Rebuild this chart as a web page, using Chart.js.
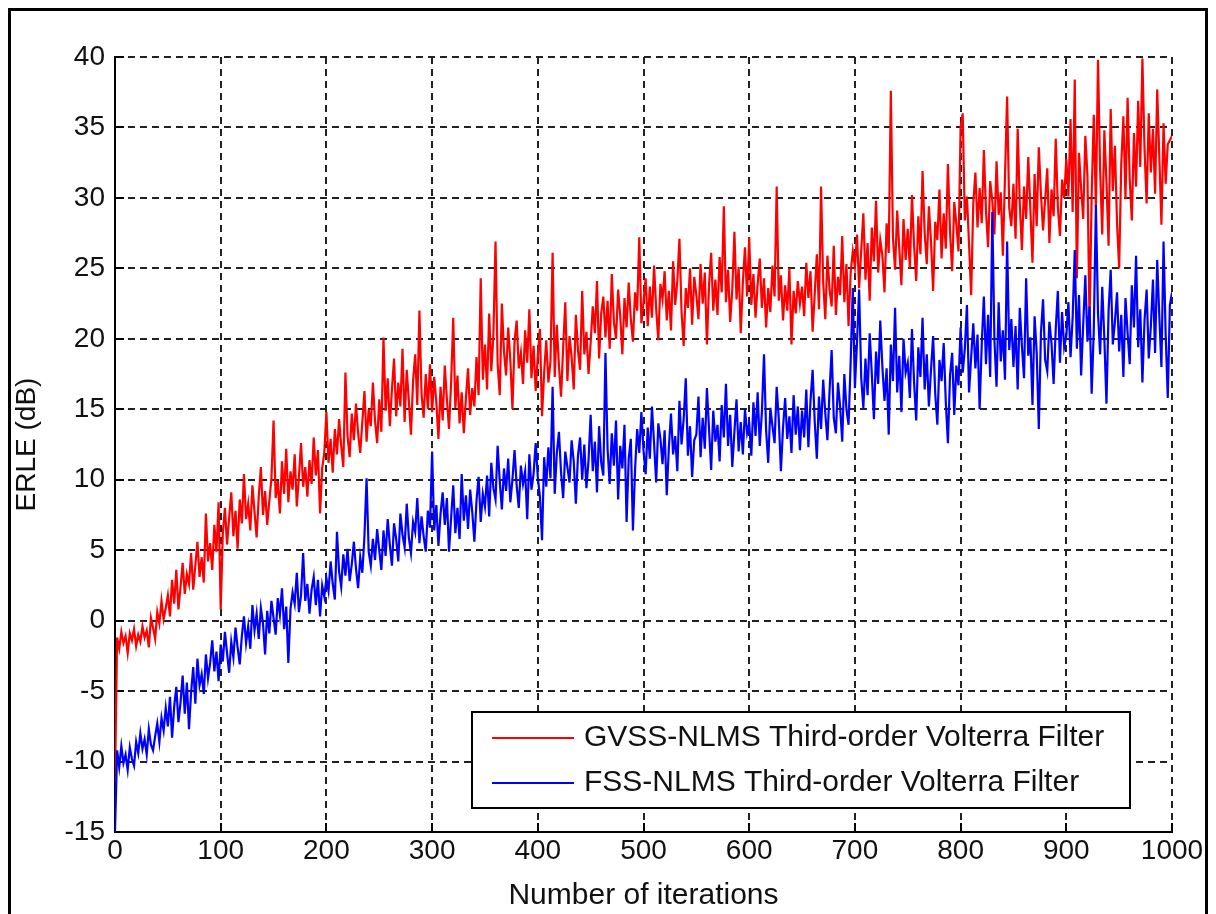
<!DOCTYPE html>
<html>
<head>
<meta charset="utf-8">
<title>ERLE</title>
<script src="https://cdn.jsdelivr.net/npm/chart.js@4.4.1/dist/chart.umd.min.js"></script>
<style>
  html, body { margin: 0; padding: 0; background: #fff; }
  #wrap { position: relative; width: 1216px; height: 914px; overflow: hidden; }
  #frame { position: absolute; left: 8px; top: 8px; width: 1194px; height: 920px;
           border: 3px solid #000; border-bottom: none; pointer-events: none; }
</style>
</head>
<body>
<div id="wrap">
  <canvas id="erlegraph" width="1216" height="914"></canvas>
  <div id="frame"></div>
</div>
<script>
// one sample every 2 iterations, 0..1000
const step = 2;

const gvss = [
  -11.5, -1.2, -2.0, -0.8, -1.6, -1.1, -2.3, -0.9, -1.4, -0.6, -1.8, -1.0, -1.5, -0.4, -1.2, -0.7, -1.9, 0.2, -0.5, -1.3, 0.6, -0.2, 1.4, 0.1, 0.9,
  1.8, 0.3, 2.9, 1.2, 3.6, 0.8, 2.4, 4.1, 1.9, 3.3, 2.6, 4.8, 2.2, 3.9, 5.6, 3.1, 4.5, 2.7, 7.6, 4.2, 5.5, 3.6, 6.8, 4.9, 8.4,
  0.8, 6.2, 8.0, 5.4, 7.3, 9.1, 6.0, 7.8, 5.1, 8.6, 6.9, 10.4, 7.2, 8.3, 6.4, 9.6, 7.7, 5.9, 8.8, 10.9, 7.5, 9.2, 6.8, 8.5, 10.1,
  14.2, 8.7, 9.9, 7.6, 11.3, 9.0, 12.2, 8.4, 10.6, 9.3, 11.8, 8.1, 10.2, 12.6, 9.5, 10.9, 8.8, 11.4, 9.7, 13.0, 10.3, 12.1, 7.6, 10.8, 11.9,
  14.8, 11.2, 12.9, 10.5, 13.6, 11.8, 14.3, 12.4, 10.9, 17.6, 13.1, 11.6, 14.7, 12.8, 15.4, 13.3, 11.9, 14.1, 16.3, 12.7, 15.0, 13.8, 16.9, 14.2, 12.6,
  15.7, 13.4, 20.1, 14.9, 17.2, 13.8, 16.4, 18.6, 14.5, 16.9, 15.2, 19.3, 14.1, 17.8, 15.6, 13.2, 17.0, 18.9, 15.3, 22.0, 16.1, 14.4, 17.5, 15.0, 18.2,
  14.8, 17.3, 15.5, 12.9, 16.6, 14.2, 18.1, 15.7, 13.6, 16.9, 21.5, 15.1, 17.4, 14.0, 16.2, 13.3, 15.8, 17.9, 14.6, 16.5, 15.2, 18.7, 16.0, 24.3, 17.1,
  19.6, 16.4, 21.8, 17.7, 20.3, 26.9, 18.2, 16.0, 22.5, 19.1, 17.4, 20.8, 18.5, 15.0, 19.8, 21.3, 17.9, 19.0, 16.8, 20.6, 18.3, 22.1, 17.2, 19.5, 16.3,
  18.8, 20.7, 14.5, 17.6, 19.9, 16.9, 18.4, 26.1, 17.3, 21.0, 18.1, 15.9, 19.4, 22.6, 17.0, 20.2, 18.7, 16.4, 21.7, 19.2, 17.8, 23.4, 18.9, 20.5, 17.5,
  19.7, 22.3, 20.4, 24.1, 18.6, 21.8, 23.0, 20.1, 22.7, 19.3, 24.6, 21.2, 20.0, 23.5, 21.6, 18.9, 22.9, 20.8, 24.0, 21.4, 19.8, 23.3, 22.0, 27.2, 21.1,
  22.6, 24.3, 20.9, 23.7, 21.5, 25.2, 22.1, 19.9, 23.9, 22.8, 24.8, 21.3, 23.4, 20.6, 25.5, 22.4, 24.1, 27.1, 21.9, 19.5, 23.6, 22.2, 25.0, 21.0, 24.4,
  23.1, 21.4, 25.3, 22.5, 24.7, 19.6, 23.8, 26.1, 22.0, 24.2, 21.7, 25.8, 23.3, 29.4, 22.6, 24.9, 21.2, 23.5, 27.6, 22.8, 25.1, 20.4, 24.0, 26.5, 23.0,
  27.2, 22.4, 24.6, 21.5, 23.9, 25.7, 22.2, 24.3, 20.8, 23.6, 21.9, 25.2, 23.0, 30.8, 22.7, 24.5, 21.3, 23.8, 22.0, 25.0, 19.6, 23.4, 21.8, 24.1, 22.5,
  23.7, 21.6, 25.4, 22.9, 24.8, 20.5, 23.2, 26.0, 22.1, 30.8, 24.0, 21.4, 25.9, 23.5, 22.3, 26.6, 21.7, 24.4, 23.1, 27.3, 22.6, 25.3, 20.9, 24.7, 26.2,
  25.1, 27.4, 23.6, 26.3, 28.9, 24.2, 26.8, 22.7, 27.9, 25.5, 29.8, 24.7, 27.0, 25.9, 23.3, 28.2, 26.1, 37.6, 27.2, 24.9, 29.1, 26.4, 23.8, 28.5, 25.6,
  27.8, 25.0, 30.2, 26.6, 24.1, 28.7, 26.0, 31.9, 27.5, 25.3, 29.4, 26.9, 23.4, 28.3, 27.0, 30.6, 25.7, 28.9, 26.4, 32.4, 27.6, 24.8, 29.7, 28.1, 26.2,
  35.0, 36.0, 28.4, 30.1, 26.7, 23.1, 29.6, 31.8, 27.9, 30.7, 28.2, 33.4, 29.1, 26.5, 31.2, 29.8, 27.4, 32.6, 28.8, 30.4, 25.9, 31.5, 37.2, 29.3, 28.0,
  31.0, 27.1, 34.9, 29.6, 26.3, 30.8, 28.5, 32.9, 29.2, 25.4, 31.7, 28.0, 33.6, 30.3, 27.7, 29.9, 32.1, 26.8, 30.6, 28.7, 34.2, 29.4, 27.3, 31.3, 30.0,
  32.8, 30.1, 35.6, 29.0, 38.4, 24.3, 33.2, 30.7, 28.5, 34.4, 31.6, 21.2, 30.2, 35.9, 29.3, 39.8, 32.0, 27.4, 34.8, 31.1, 26.6, 36.3, 30.5, 33.7, 28.2,
  25.0, 32.4, 35.8, 29.9, 37.1, 31.3, 28.4, 34.6, 30.8, 36.9, 32.2, 39.9, 33.5, 29.6, 36.0, 31.8, 34.9, 30.3, 37.7, 32.9, 28.1, 35.3, 31.0, 33.8, 34.1, 34.4
];

const fss = [
  -15.0, -9.2, -10.4, -8.9, -10.1, -9.5, -10.6, -9.0, -9.8, -10.3, -8.6, -9.4, -8.0, -9.1, -8.4, -9.5, -7.7, -8.8, -9.2, -8.2, -7.3, -8.6, -6.9, -7.8, -6.2,
  -7.5, -5.4, -8.3, -6.1, -4.7, -7.2, -5.8, -3.9, -6.6, -4.4, -7.7, -5.1, -3.3, -5.9, -2.7, -4.6, -3.8, -5.2, -2.4, -4.1, -3.0, -1.4, -3.6, -2.2, -4.3,
  -1.7, -2.9, -0.8, -2.3, -3.7, -1.5, -2.6, -0.5, -1.9, -3.1, -1.1, 0.3, -1.6, -0.4, -2.0, 1.1, -0.7, 0.5, -1.3, 0.9, -0.2, -2.4, 0.7, -0.9, 1.4,
  0.2, -1.0, 1.6, 0.4, 2.3, -0.6, 1.0, -3.0, 0.8, 2.0, 1.2, 3.4, 0.6, 1.8, 4.8, 1.4, 2.6, 0.5, 2.2, 3.1, 1.1, 2.9, 0.3, 2.5, 1.7,
  3.0, 2.1, 4.2, 2.6, 1.5, 6.3, 3.5, 2.4, 4.7, 3.2, 5.1, 2.8, 4.0, 5.6, 3.7, 2.3, 4.5, 3.4, 6.0, 10.1, 4.9, 3.9, 5.8, 4.3, 6.5,
  5.0, 3.6, 6.4, 4.6, 7.2, 5.4, 3.9, 6.9, 5.8, 4.2, 7.6, 6.1, 5.2, 8.3, 5.9, 4.8, 7.0, 6.3, 8.7, 5.5, 7.4, 6.0, 4.9, 7.8, 6.6,
  12.0, 6.4, 8.2, 5.3, 7.6, 9.1, 6.8, 8.7, 4.9, 7.3, 9.6, 6.2, 8.0, 5.8, 10.4, 7.1, 8.9, 6.5, 9.3, 7.7, 5.6, 8.5, 10.2, 7.0, 9.0,
  8.1, 10.3, 7.4, 11.2, 9.4, 8.6, 12.4, 9.9, 7.9, 10.8, 9.2, 11.5, 8.4, 10.0, 12.1, 9.6, 8.0, 11.0, 9.7, 10.6, 7.2, 11.8, 9.3, 10.4, 12.6,
  10.2, 8.8, 5.7, 11.6, 9.5, 12.3, 10.1, 16.6, 9.0, 11.9, 13.4, 10.5, 8.7, 12.0, 10.9, 9.8, 12.8, 11.3, 8.3, 11.7, 13.0, 10.0, 12.5, 9.4, 11.4,
  14.6, 10.6, 12.7, 9.1, 13.8, 11.2, 10.3, 19.0, 12.2, 9.7, 13.3, 11.0, 14.2, 8.6, 12.4, 10.8, 13.9, 7.0, 11.5, 12.9, 6.4, 10.7, 13.6, 11.9, 14.8,
  12.1, 10.4, 13.7, 11.5, 15.2, 12.6, 9.8, 14.0, 12.9, 11.1, 13.5, 8.9, 12.3, 14.7, 11.8, 13.1, 10.6, 15.6, 12.5, 14.3, 17.2, 11.7, 13.8, 10.2, 12.8,
  13.2, 15.9, 11.6, 14.4, 12.2, 16.5, 13.6, 10.7, 14.9, 12.7, 13.9, 11.3, 15.3, 13.0, 16.8, 12.4, 14.6, 10.9, 13.4, 15.7, 12.0, 14.1, 11.8, 15.0, 13.3,
  14.0, 11.7, 15.5, 13.1, 16.2, 12.4, 14.8, 18.9, 13.5, 11.2, 15.1, 13.8, 12.6, 16.6, 14.3, 10.6, 13.7, 15.8, 12.9, 14.5, 11.9, 16.0, 13.2, 15.2, 12.1,
  14.9, 13.0, 16.4, 12.3, 15.6, 17.8, 14.1, 11.5, 15.9, 13.6, 17.1, 14.7, 12.8, 16.3, 19.2, 14.4, 13.3, 16.9, 15.2, 12.7, 17.5, 15.0, 13.9, 18.4, 23.6,
  16.5, 19.8, 23.5, 17.2, 15.1, 18.6, 16.0, 20.4, 17.5, 14.3, 19.1, 16.8, 21.3, 18.0, 15.6, 17.9, 13.2, 19.6, 17.0, 22.2, 16.2, 18.8, 14.8, 20.0, 17.6,
  18.3, 15.8, 20.7, 16.9, 14.2, 19.4, 17.3, 21.5, 16.4, 18.9, 15.2, 17.8, 20.2, 16.1, 13.9, 18.5, 17.0, 19.7, 15.5, 12.6, 17.4, 19.0, 14.6, 18.1, 16.7,
  20.8, 17.6, 19.3, 22.4, 16.2, 18.7, 21.1, 17.9, 20.3, 15.0, 19.6, 23.0, 18.2, 21.7, 17.3, 29.0, 19.9, 16.6, 22.6, 18.4, 20.6, 17.1, 26.9, 19.2, 21.4,
  18.0, 20.9, 16.4, 22.2, 19.5, 17.2, 24.3, 18.8, 20.1, 15.3, 21.6, 19.0, 13.6, 20.4, 22.8, 18.5, 17.7, 21.2, 19.7, 16.8, 20.7, 23.4, 18.3, 21.9, 19.4,
  20.2, 22.6, 18.7, 21.5, 26.3, 19.3, 23.1, 17.4, 21.0, 24.5, 19.8, 22.3, 16.1, 20.6, 29.5, 21.8, 18.9, 23.7, 20.0, 15.4, 22.0, 24.9, 19.6, 21.2, 23.3,
  19.1, 21.7, 17.3, 22.9, 20.4, 18.2, 23.8, 20.8, 25.9, 19.4, 22.1, 16.9, 21.3, 23.5, 18.6, 20.9, 24.2, 19.0, 25.6, 21.6, 18.0, 26.9, 20.3, 15.8, 22.4, 23.3
];

const xTicks = [0, 100, 200, 300, 400, 500, 600, 700, 800, 900, 1000];
const yTicks = [-15, -10, -5, 0, 5, 10, 15, 20, 25, 30, 35, 40];

const names = ['GVSS-NLMS Third-order Volterra Filter', 'FSS-NLMS Third-order Volterra Filter'];

const FONT = "'Liberation Sans', Arial, sans-serif";

function toPoints(arr) {
  return arr.map((v, i) => ({ x: i * step, y: v }));
}

// matlab style ticks pointing into the plot
const innerTicks = {
  id: 'innerTicks',
  beforeDatasetsDraw(chart) {
    const ctx = chart.ctx;
    const a = chart.chartArea;
    const xs = chart.scales.x, ys = chart.scales.y;
    ctx.save();
    ctx.strokeStyle = '#000';
    ctx.lineWidth = 2;
    ctx.beginPath();
    xTicks.forEach(v => {
      const px = Math.round(xs.getPixelForValue(v));
      ctx.moveTo(px, a.bottom);
      ctx.lineTo(px, a.bottom - 9);
    });
    yTicks.forEach(v => {
      const py = Math.round(ys.getPixelForValue(v));
      ctx.moveTo(a.left, py);
      ctx.lineTo(a.left + 9, py);
    });
    ctx.stroke();
    ctx.restore();
  }
};

// boxed legend in the lower right corner
const boxLegend = {
  id: 'boxLegend',
  afterDraw(chart) {
    const ctx = chart.ctx;
    const a = chart.chartArea;
    const w = 658, h = 96;
    const left = a.right - 42 - w;
    const top = a.bottom - 24 - h;
    ctx.save();
    ctx.fillStyle = '#fff';
    ctx.fillRect(left, top, w, h);
    ctx.strokeStyle = '#000';
    ctx.lineWidth = 2;
    ctx.strokeRect(left, top, w, h);
    ctx.font = '30px ' + FONT;
    ctx.textBaseline = 'middle';
    ctx.fillStyle = '#111';
    chart.data.datasets.forEach((ds, i) => {
      const y = top + 26 + i * 45;
      ctx.strokeStyle = ds.borderColor;
      ctx.lineWidth = 2;
      ctx.beginPath();
      ctx.moveTo(left + 20, y);
      ctx.lineTo(left + 102, y);
      ctx.stroke();
      ctx.fillText(ds.label, left + 112, y);
    });
    ctx.restore();
  }
};

new Chart(document.getElementById('erlegraph'), {
  type: 'line',
  data: {
    datasets: [
      {
        label: names[0],
        data: toPoints(gvss),
        borderColor: '#ff0000',
        borderWidth: 2.2,
        pointRadius: 0,
        tension: 0,
        order: 1
      },
      {
        label: names[1],
        data: toPoints(fss),
        borderColor: '#0000ff',
        borderWidth: 2.2,
        pointRadius: 0,
        tension: 0,
        order: 0
      }
    ]
  },
  options: {
    responsive: false,
    animation: false,
    devicePixelRatio: 1,
    layout: { padding: { top: 57, right: 44, left: 0, bottom: 0 } },
    plugins: { legend: { display: false }, tooltip: { enabled: false } },
    scales: {
      x: {
        type: 'linear',
        min: 0,
        max: 1000,
        afterBuildTicks: s => { s.ticks = xTicks.map(v => ({ value: v })); },
        afterFit: s => { s.height = 82; },
        grid: { color: '#222', lineWidth: 2, drawTicks: false },
        border: { display: true, color: '#000', width: 2, dash: [7, 5] },
        ticks: {
          color: '#111',
          padding: 2,
          maxRotation: 0,
          font: { family: FONT, size: 28 },
          callback: v => String(v)
        },
        title: {
          display: true,
          text: 'Number of iterations',
          color: '#111',
          font: { family: FONT, size: 30 },
          padding: { top: 0, bottom: 0 }
        }
      },
      y: {
        min: -15,
        max: 40,
        afterBuildTicks: s => { s.ticks = yTicks.map(v => ({ value: v })); },
        afterFit: s => { s.width = 115; },
        grid: { color: '#222', lineWidth: 2, drawTicks: false },
        border: { display: true, color: '#000', width: 2, dash: [7, 5] },
        ticks: {
          color: '#111',
          padding: 10,
          font: { family: FONT, size: 28 },
          callback: v => String(v)
        },
        title: {
          display: true,
          text: 'ERLE (dB)',
          color: '#111',
          font: { family: FONT, size: 28 },
          padding: { top: 10, bottom: 0 }
        }
      }
    }
  },
  plugins: [innerTicks, boxLegend]
});
</script>
</body>
</html>
